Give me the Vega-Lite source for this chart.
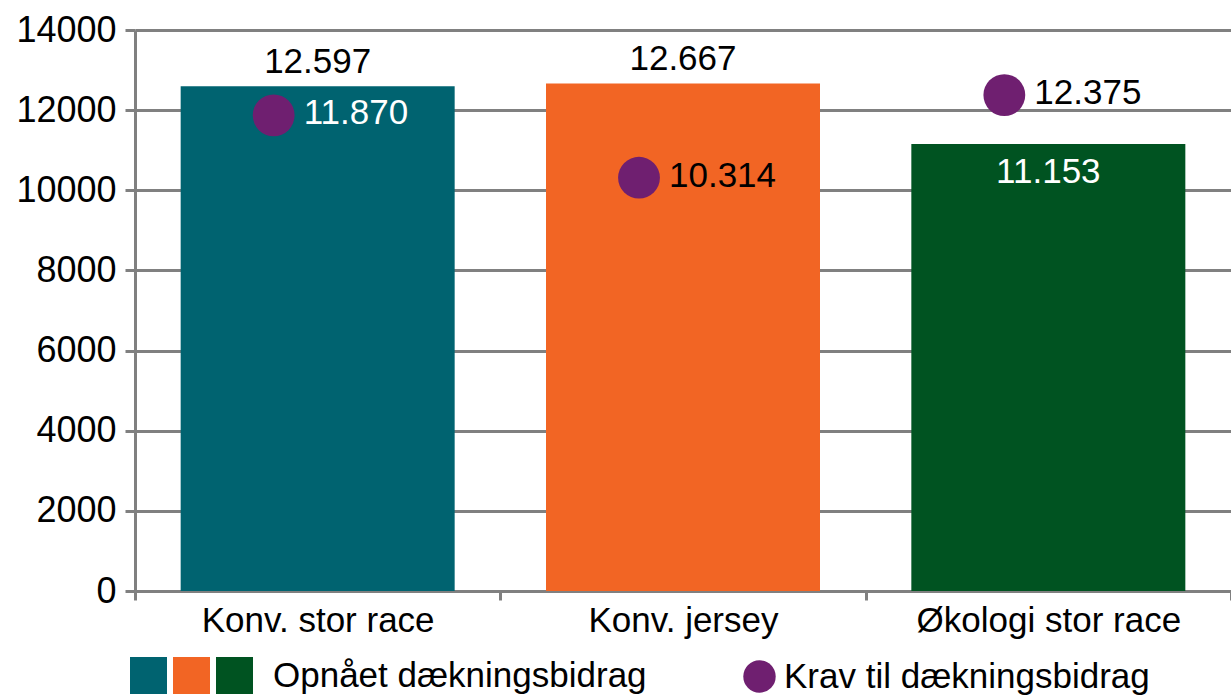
{
  "$schema": "https://vega.github.io/schema/vega-lite/v6.json",
  "width": 1096,
  "height": 561,
  "autosize": {"type": "none"},
  "padding": {"left": 135, "top": 30, "right": 0, "bottom": 104},
  "config": {
    "view": {"stroke": null},
    "font": "Liberation Sans",
    "locale": {"number": {"decimal": ",", "thousands": ".", "grouping": [3], "currency": ["", ""]}}
  },
  "data": {
    "values": [
      {"kategori": "Konv. stor race", "opnaaet": 12597, "krav": 11870, "serie": "Krav til dækningsbidrag"},
      {"kategori": "Konv. jersey", "opnaaet": 12667, "krav": 10314, "serie": "Krav til dækningsbidrag"},
      {"kategori": "Økologi stor race", "opnaaet": 11153, "krav": 12375, "serie": "Krav til dækningsbidrag"}
    ]
  },
  "encoding": {
    "x": {
      "field": "kategori",
      "type": "nominal",
      "sort": null,
      "scale": {"paddingInner": 0, "paddingOuter": 0},
      "axis": {
        "title": null,
        "labelAngle": 0,
        "labelFontSize": 35,
        "labelColor": "black",
        "labelPadding": 3,
        "labelLimit": 0,
        "domainColor": "#808080",
        "domainWidth": 3,
        "tickColor": "#808080",
        "tickWidth": 3,
        "tickSize": 9,
        "tickBand": "extent",
        "grid": false
      }
    }
  },
  "layer": [
    {
      "mark": {"type": "bar", "width": {"band": 0.75}},
      "encoding": {
        "y": {
          "field": "opnaaet",
          "type": "quantitative",
          "scale": {"domain": [0, 14000], "nice": false},
          "axis": {
            "title": null,
            "values": [0, 2000, 4000, 6000, 8000, 10000, 12000, 14000],
            "format": "d",
            "labelFontSize": 36,
            "labelColor": "black",
            "labelPadding": 9,
            "domainColor": "#808080",
            "domainWidth": 3,
            "tickColor": "#808080",
            "tickWidth": 3,
            "tickSize": 10,
            "grid": true,
            "gridColor": "#808080",
            "gridWidth": 3,
            "gridOpacity": 1
          }
        },
        "color": {
          "field": "kategori",
          "type": "nominal",
          "sort": null,
          "scale": {"range": ["#006370", "#f26524", "#005321"]},
          "legend": {
            "orient": "none",
            "legendX": -5,
            "legendY": 627,
            "direction": "horizontal",
            "title": null,
            "padding": 0,
            "symbolType": "square",
            "symbolSize": 1369,
            "symbolStrokeWidth": 0,
            "symbolOpacity": 1,
            "labelFontSize": 35,
            "labelColor": "black",
            "labelOffset": 0,
            "labelLimit": 0,
            "columnPadding": 6,
            "labelExpr": "datum.value == 'Økologi stor race' ? 'Opnået dækningsbidrag' : ''",
            "encode": {
              "labels": {
                "update": {
                  "dx": {"signal": "datum.value == 'Økologi stor race' ? 20 : 0"}
                }
              }
            }
          }
        }
      }
    },
    {
      "transform": [{"filter": "datum.kategori != 'Økologi stor race'"}],
      "mark": {"type": "text", "align": "center", "baseline": "alphabetic", "dy": -13, "fontSize": 35, "color": "black"},
      "encoding": {
        "y": {"field": "opnaaet", "type": "quantitative"},
        "text": {"field": "opnaaet", "type": "quantitative", "format": ",d"}
      }
    },
    {
      "transform": [{"filter": "datum.kategori == 'Økologi stor race'"}],
      "mark": {"type": "text", "align": "center", "baseline": "alphabetic", "dy": 39, "fontSize": 35, "color": "white"},
      "encoding": {
        "y": {"field": "opnaaet", "type": "quantitative"},
        "text": {"field": "opnaaet", "type": "quantitative", "format": ",d"}
      }
    },
    {
      "mark": {"type": "circle", "size": 1750, "opacity": 1, "xOffset": -44},
      "encoding": {
        "y": {"field": "krav", "type": "quantitative"},
        "fill": {
          "field": "serie",
          "type": "nominal",
          "scale": {"range": ["#6f1f70"]},
          "legend": {
            "orient": "none",
            "legendX": 607,
            "legendY": 629,
            "direction": "horizontal",
            "title": null,
            "padding": 0,
            "symbolType": "circle",
            "symbolSize": 1050,
            "symbolStrokeWidth": 0,
            "symbolOpacity": 1,
            "labelFontSize": 35,
            "labelColor": "black",
            "labelOffset": 7,
            "labelLimit": 0
          }
        }
      }
    },
    {
      "mark": {"type": "text", "align": "left", "baseline": "middle", "dx": -14, "dy": -2, "fontSize": 35},
      "encoding": {
        "y": {"field": "krav", "type": "quantitative"},
        "text": {"field": "krav", "type": "quantitative", "format": ",d"},
        "color": {"condition": {"test": "datum.kategori == 'Konv. stor race'", "value": "white"}, "value": "black"}
      }
    }
  ]
}
